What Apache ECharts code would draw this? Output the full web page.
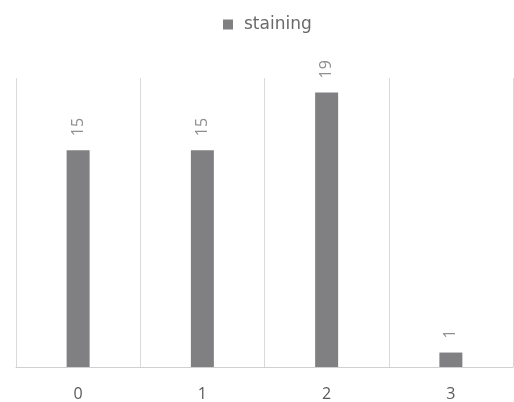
<!DOCTYPE html>
<html>
<head>
<meta charset="utf-8">
<script src="https://cdn.jsdelivr.net/npm/echarts@6/dist/echarts.min.js"></script>
<style>
  html, body { margin: 0; padding: 0; background: #fff; }
  #chart { width: 514px; height: 402px; }
</style>
</head>
<body>
<div id="chart"></div>
<script>
// categories and values
var categories = ["0", "1", "2", "3"];
var staining = [15, 15, 19, 1];

var myChart = echarts.init(document.getElementById("chart"));
var option = {
  backgroundColor: "#ffffff",
  textStyle: { fontFamily: "Open Sans" },
  legend: {
    data: ["staining"],
    left: 218,
    top: 11,
    itemWidth: 10,
    itemHeight: 10,
    itemGap: 4,
    icon: "rect",
    textStyle: { color: "#6a6a6a", fontSize: 17, fontFamily: "DejaVu Sans", padding: [0, 0, 0, 6] }
  },
  grid: { left: 16, right: 1, top: 78, bottom: 34 },
  xAxis: {
    type: "category",
    data: categories,
    axisTick: { show: false },
    axisLine: { lineStyle: { color: "#d0d0d0", width: 1 } },
    axisLabel: { color: "#5a5a5a", fontSize: 16, margin: 19 },
    splitLine: { show: true, lineStyle: { color: "#d9d9d9", width: 1 } }
  },
  yAxis: {
    type: "value",
    min: 0,
    max: 20,
    show: false
  },
  series: [
    {
      name: "staining",
      type: "bar",
      data: staining,
      barWidth: 23,
      itemStyle: { color: "#808083" },
      label: {
        show: true,
        position: "top",
        rotate: 90,
        align: "left",
        verticalAlign: "middle",
        distance: 14,
        color: "#8f8f8f",
        fontSize: 16
      }
    }
  ]
};
myChart.setOption(option);
</script>
</body>
</html>
